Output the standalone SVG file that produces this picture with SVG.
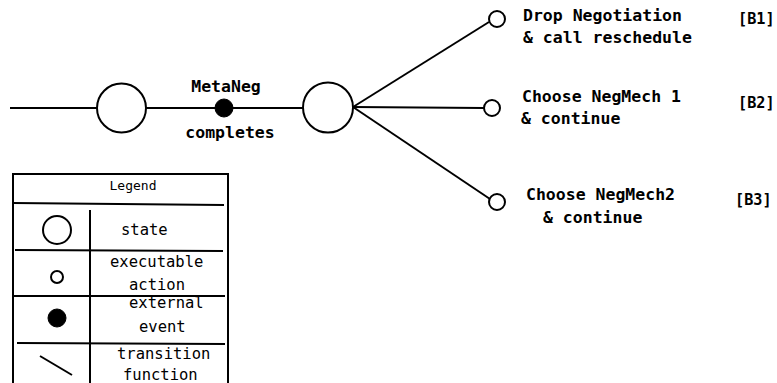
<svg xmlns="http://www.w3.org/2000/svg" width="777" height="383" viewBox="0 0 777 383">
<style>
.ln{stroke:#000;stroke-width:2;fill:none}
.st{stroke:#000;stroke-width:2;fill:#fff}
.ev{fill:#000;stroke:#000;stroke-width:1}
.b{font-family:"DejaVu Sans Mono",monospace;font-weight:bold;font-size:16.5px;fill:#000}
.k{font-family:"DejaVu Sans Mono",monospace;font-weight:bold;font-size:15.2px;fill:#000}
.r{font-family:"DejaVu Sans Mono",monospace;font-size:15.5px;fill:#000}
.t{font-family:"DejaVu Sans Mono",monospace;font-size:13px;fill:#000}
</style>
<rect width="777" height="383" fill="#fff"/>
<g id="connectors">
<line class="ln" x1="10" y1="108" x2="97" y2="108"/>
<line class="ln" x1="146" y1="108" x2="224" y2="108"/>
<line class="ln" x1="224" y1="108" x2="303" y2="108"/>
<line class="ln" x1="353" y1="107" x2="489" y2="22"/>
<line class="ln" x1="353" y1="107" x2="484" y2="108"/>
<line class="ln" x1="353" y1="107" x2="490" y2="199"/>
</g>
<g id="state1"><circle class="st" cx="121.5" cy="108" r="24.5"/></g>
<g id="event1"><circle class="ev" cx="224" cy="108" r="9"/>
<text class="b" x="226" y="92" text-anchor="middle">MetaNeg</text>
<text class="b" x="230" y="138" text-anchor="middle">completes</text></g>
<g id="state2"><circle class="st" cx="328" cy="107.5" r="25"/></g>
<g id="action1"><circle class="st" cx="497" cy="19" r="8"/>
<text class="b" x="523" y="21">Drop Negotiation</text>
<text class="b" x="523" y="43">&amp; call reschedule</text>
<text class="k" x="738" y="24">[B1]</text></g>
<g id="action2"><circle class="st" cx="492" cy="108" r="8"/>
<text class="b" x="522" y="102">Choose NegMech 1</text>
<text class="b" x="521" y="124">&amp; continue</text>
<text class="k" x="738" y="108">[B2]</text></g>
<g id="action3"><circle class="st" cx="497" cy="202" r="8"/>
<text class="b" x="526" y="200">Choose NegMech2</text>
<text class="b" x="543" y="223">&amp; continue</text>
<text class="k" x="735" y="205">[B3]</text></g>
<g id="legend">
<rect class="ln" x="13" y="174" width="215" height="215"/>
<text class="t" x="133" y="190" text-anchor="middle">Legend</text>
<line class="ln" x1="13" y1="203" x2="224" y2="205"/>
<line class="ln" x1="90" y1="210" x2="90" y2="383"/>
<line class="ln" x1="15" y1="250" x2="223" y2="251"/>
<line class="ln" x1="13" y1="296" x2="225" y2="296"/>
<line class="ln" x1="17" y1="343" x2="225" y2="344"/>
<circle class="st" cx="57" cy="230" r="14"/>
<circle class="st" cx="57" cy="277" r="6"/>
<circle class="ev" cx="57" cy="318" r="9"/>
<line class="ln" x1="40" y1="356" x2="72" y2="375"/>
<text class="r" x="121" y="235">state</text>
<text class="r" x="110" y="267">executable</text>
<text class="r" x="129" y="290">action</text>
<text class="r" x="129" y="308">external</text>
<text class="r" x="139" y="332">event</text>
<text class="r" x="117" y="359">transition</text>
<text class="r" x="123" y="380">function</text>
</g>
</svg>
